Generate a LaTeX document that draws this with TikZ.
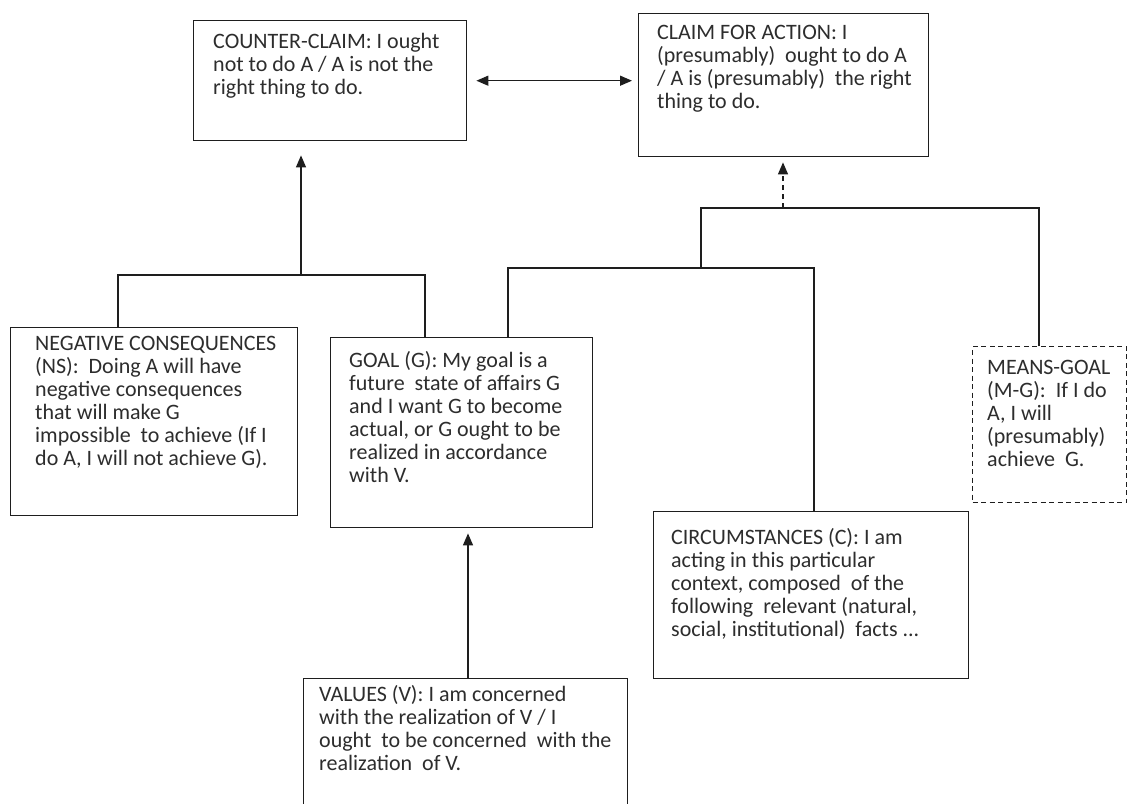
\documentclass[tikz,border=0pt]{standalone}
\usepackage{fontspec}
\setmainfont{Carlito}
\usetikzlibrary{arrows.meta}
\definecolor{ink}{RGB}{30,30,30}
\definecolor{txtc}{RGB}{45,45,45}
\begin{document}
\begin{tikzpicture}[x=1pt,y=-1pt,
  box/.style={draw=ink, line width=1.4pt, inner sep=0pt, anchor=north west},
  dbox/.style={box, dash pattern=on 5pt off 3.5pt},
  txt/.style={anchor=north west, inner sep=0pt, align=left, text=txtc,
    font=\fontsize{22}{23}\selectfont},
  conn/.style={draw=ink, line width=1.3pt},
  tip/.style={-{Triangle[length=12pt,width=10pt]}},
  dtip/.style={tip, dash pattern=on 5pt off 4pt}
]
\useasboundingbox[fill=white] (0,0) rectangle (1132,803);

% boxes
\node[box, minimum width=273pt, minimum height=120pt] (cc) at (193,20) {};
\node[box, minimum width=290pt, minimum height=143pt] (claim) at (638,13) {};
\node[box, minimum width=287pt, minimum height=188pt] (ns) at (10,327) {};
\node[box, minimum width=262pt, minimum height=190pt] (goal) at (330,337) {};
\node[dbox, minimum width=154pt, minimum height=156pt] (mg) at (972,346) {};
\node[box, minimum width=315pt, minimum height=167pt] (circ) at (653,511) {};
\node[box, minimum width=324pt, minimum height=140pt] (val) at (303,678) {};

% texts
\node[txt] (ccT) at (213,33) {COUNTER-CLAIM: I ought\\not to do A / A is not the\\right thing to do.};
\node[txt] (claimT) at (657,25) {CLAIM FOR ACTION: I\\(presumably)\ \ ought to do A\\/ A is (presumably)\ \ the right\\thing to do.};
\node[txt] (nsT) at (35,336) {NEGATIVE CONSEQUENCES\\(NS):\ \ Doing A will have\\negative consequences\\that will make G\\impossible\ \ to achieve (If I\\do A, I will not achieve G).};
\node[txt] (goalT) at (349,351) {GOAL (G): My goal is a\\future\ \ state of affairs G\\and I want G to become\\actual, or G ought to be\\realized in accordance\\with V.};
\node[txt] (mgT) at (987,360) {MEANS-GOAL\\(M-G):\ \ If I do\\A, I will\\(presumably)\\achieve\ \ G.};
\node[txt] (circT) at (671,528) {CIRCUMSTANCES (C): I am\\acting in this particular\\context,\ composed\ \ of the\\following\ \ relevant (natural,\\social, institutional)\ \ facts ...};
\node[txt] (valT) at (319,685) {VALUES (V): I am concerned\\with the realization of V / I\\ought\ \ to be concerned\ \ with the\\realization\ \ of V.};

% junction coordinates
\coordinate (jl) at (118,275);
\coordinate (jm) at (301,275);
\coordinate (jr) at (425,275);
\coordinate (kl) at (701,208);
\coordinate (km) at (783,208);
\coordinate (kr) at (1039,208);
\coordinate (ll) at (508,268);
\coordinate (lm) at (701,268);
\coordinate (lr) at (814,268);
\coordinate (vg) at (468,600);

% double arrow between claims
\draw[conn, {Triangle[length=12pt,width=10pt]}-{Triangle[length=12pt,width=10pt]},
  shorten <=9pt, shorten >=6pt]
  (cc.east) -- (claim.west |- cc.east);

% counter-claim branch
\draw[conn] (jl |- ns.north) -- (jl) -- (jr) -- (jr |- goal.north);
\draw[conn, tip, shorten >=14pt] (jm) -- (jm |- cc.south);

% claim branch
\draw[conn] (kr |- mg.north) -- (kr) -- (kl) -- (lm);
\draw[conn] (ll |- goal.north) -- (ll) -- (lr) -- (lr |- circ.north);
\draw[conn, dtip, shorten >=5pt] (km) -- (km |- claim.south);

% values to goal
\draw[conn, tip, shorten >=5pt] (vg |- val.north) -- (vg |- goal.south);
\end{tikzpicture}
\end{document}
